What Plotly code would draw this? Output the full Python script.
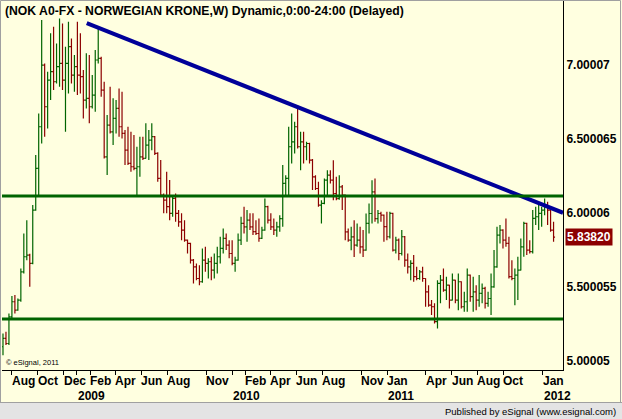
import pandas as pd
import plotly.graph_objects as go

# ---------------- data (weekly USD/NOK) ----------------
first_week = "2008-07-11"

open_prices = [
    5.097, 5.153, 5.119, 5.299, 5.401, 5.344, 5.412, 5.603, 5.705, 5.716,
    5.660, 6.020, 6.302, 6.583, 7.000, 6.718, 6.898, 6.955, 6.887, 6.989,
    7.011, 6.898, 7.011, 7.124, 6.932, 6.989, 6.932, 6.921, 6.763, 6.775,
    6.718, 6.797, 7.034, 7.045, 6.831, 6.380, 6.594, 6.549, 6.639, 6.707,
    6.583, 6.538, 6.425, 6.335, 6.313, 6.302, 6.313, 6.380, 6.369, 6.459,
    6.493, 6.516, 6.403, 6.234, 6.121, 6.088, 6.043, 5.998, 6.099, 5.998,
    5.941, 5.885, 5.817, 5.795, 5.682, 5.637, 5.558, 5.536, 5.682, 5.660,
    5.671, 5.615, 5.660, 5.705, 5.761, 5.829, 5.784, 5.727, 5.660, 5.682,
    5.817, 5.930, 5.907, 5.952, 5.907, 5.874, 5.862, 5.829, 5.885, 6.043,
    5.952, 5.907, 5.885, 5.907, 5.963, 6.200, 6.234, 6.448, 6.481, 6.583,
    6.448, 6.481, 6.448, 6.470, 6.357, 6.245, 6.166, 6.053, 6.065, 6.222,
    6.256, 6.222, 6.132, 6.098, 6.177, 6.121, 5.873, 5.817, 5.839, 5.783,
    5.817, 5.772, 5.749, 5.930, 5.997, 6.143, 5.963, 5.997, 5.986, 5.908,
    5.840, 5.998, 5.750, 5.817, 5.727, 5.840, 5.682, 5.637, 5.660, 5.570,
    5.558, 5.603, 5.558, 5.468, 5.378, 5.367, 5.266, 5.525, 5.547, 5.480,
    5.513, 5.412, 5.547, 5.412, 5.536, 5.367, 5.401, 5.581, 5.435, 5.468,
    5.412, 5.457, 5.491, 5.390, 5.423, 5.502, 5.637, 5.851, 5.885, 5.817,
    5.795, 5.570, 5.558, 5.581, 5.615, 5.772, 5.930, 5.750, 5.739, 5.964,
    5.975, 5.998, 6.020, 6.043, 6.020, 5.885,
]
high_prices = [
    5.187, 5.198, 5.322, 5.439, 5.446, 5.423, 5.626, 5.862, 5.952, 5.725,
    6.054, 6.392, 6.673, 7.304, 7.011, 6.955, 7.214, 7.259, 7.146, 7.315,
    7.281, 7.124, 7.293, 7.180, 7.067, 7.293, 7.214, 6.966, 7.079, 7.067,
    6.932, 7.101, 7.259, 7.056, 6.887, 6.662, 6.853, 6.775, 6.763, 6.842,
    6.820, 6.561, 6.583, 6.549, 6.527, 6.448, 6.516, 6.516, 6.606, 6.561,
    6.606, 6.520, 6.410, 6.358, 6.133, 6.279, 6.223, 6.110, 6.133, 6.020,
    5.998, 5.952, 5.822, 5.800, 5.690, 5.660, 5.648, 5.761, 5.772, 5.694,
    5.705, 5.727, 5.772, 5.840, 5.896, 5.862, 5.817, 5.817, 5.705, 5.862,
    5.975, 6.043, 6.020, 5.998, 5.998, 5.952, 5.964, 5.907, 6.099, 6.050,
    5.998, 5.964, 5.941, 5.986, 6.324, 6.256, 6.583, 6.673, 6.616, 6.729,
    6.549, 6.549, 6.481, 6.475, 6.365, 6.256, 6.211, 6.087, 6.234, 6.290,
    6.290, 6.357, 6.245, 6.256, 6.189, 6.125, 5.896, 5.907, 5.952, 5.930,
    5.907, 5.885, 5.997, 6.065, 6.222, 6.234, 6.020, 6.009, 5.990, 6.009,
    6.009, 6.002, 5.840, 5.829, 5.885, 5.845, 5.727, 5.682, 5.716, 5.637,
    5.615, 5.637, 5.560, 5.513, 5.412, 5.390, 5.547, 5.581, 5.626, 5.570,
    5.515, 5.592, 5.550, 5.592, 5.540, 5.468, 5.626, 5.585, 5.570, 5.513,
    5.581, 5.525, 5.502, 5.468, 5.592, 5.750, 5.908, 5.919, 5.890, 5.964,
    5.840, 5.682, 5.626, 5.705, 5.829, 5.941, 5.935, 5.817, 6.020, 6.043,
    6.054, 6.043, 6.099, 6.076, 6.025, 5.941,
]
low_prices = [
    5.040, 5.108, 5.108, 5.290, 5.322, 5.340, 5.401, 5.592, 5.682, 5.502,
    5.655, 6.015, 6.121, 6.470, 6.516, 6.572, 6.763, 6.831, 6.876, 6.853,
    6.831, 6.550, 6.808, 6.876, 6.820, 6.797, 6.808, 6.639, 6.707, 6.606,
    6.707, 6.684, 7.011, 6.786, 6.369, 6.257, 6.538, 6.459, 6.538, 6.516,
    6.504, 6.324, 6.324, 6.279, 6.290, 6.121, 6.245, 6.358, 6.369, 6.358,
    6.425, 6.392, 6.212, 6.110, 5.998, 5.998, 5.952, 5.975, 5.941, 5.907,
    5.817, 5.806, 5.727, 5.660, 5.525, 5.547, 5.513, 5.530, 5.603, 5.558,
    5.547, 5.558, 5.592, 5.660, 5.727, 5.750, 5.694, 5.648, 5.603, 5.678,
    5.784, 5.862, 5.806, 5.885, 5.851, 5.851, 5.806, 5.825, 5.880, 5.930,
    5.885, 5.851, 5.840, 5.873, 5.907, 6.110, 6.121, 6.335, 6.403, 6.436,
    6.290, 6.335, 6.357, 6.335, 6.155, 6.155, 6.042, 5.930, 6.060, 6.121,
    6.200, 6.087, 6.087, 6.090, 6.020, 5.817, 5.806, 5.749, 5.704, 5.772,
    5.727, 5.704, 5.745, 5.862, 5.930, 5.941, 5.930, 5.941, 5.806, 5.817,
    5.829, 5.741, 5.727, 5.682, 5.713, 5.637, 5.592, 5.547, 5.536, 5.547,
    5.550, 5.536, 5.367, 5.367, 5.311, 5.254, 5.221, 5.390, 5.468, 5.412,
    5.356, 5.410, 5.390, 5.344, 5.356, 5.333, 5.333, 5.401, 5.333, 5.344,
    5.367, 5.390, 5.356, 5.367, 5.311, 5.495, 5.630, 5.795, 5.761, 5.772,
    5.558, 5.547, 5.378, 5.412, 5.612, 5.705, 5.716, 5.727, 5.727, 5.919,
    5.885, 5.908, 5.986, 5.919, 5.874, 5.806,
]
close_prices = [
    5.153, 5.119, 5.299, 5.401, 5.344, 5.412, 5.603, 5.705, 5.716, 5.660,
    6.020, 6.302, 6.583, 7.000, 6.718, 6.898, 6.955, 6.887, 6.989, 7.011,
    6.898, 7.011, 7.124, 6.932, 6.989, 6.932, 6.921, 6.763, 6.775, 6.718,
    6.797, 7.034, 7.045, 6.831, 6.380, 6.594, 6.549, 6.639, 6.707, 6.583,
    6.538, 6.425, 6.335, 6.313, 6.302, 6.313, 6.380, 6.369, 6.459, 6.493,
    6.516, 6.403, 6.234, 6.121, 6.088, 6.043, 5.998, 6.099, 5.998, 5.941,
    5.885, 5.817, 5.795, 5.682, 5.637, 5.558, 5.536, 5.682, 5.660, 5.671,
    5.615, 5.660, 5.705, 5.761, 5.829, 5.784, 5.727, 5.660, 5.682, 5.817,
    5.930, 5.907, 5.952, 5.907, 5.874, 5.862, 5.829, 5.885, 6.043, 5.952,
    5.907, 5.885, 5.907, 5.963, 6.200, 6.234, 6.448, 6.481, 6.583, 6.448,
    6.481, 6.448, 6.470, 6.357, 6.245, 6.166, 6.053, 6.065, 6.222, 6.256,
    6.222, 6.132, 6.098, 6.177, 6.121, 5.873, 5.817, 5.839, 5.783, 5.817,
    5.772, 5.749, 5.930, 5.997, 6.143, 5.963, 5.997, 5.986, 5.908, 5.840,
    5.998, 5.750, 5.817, 5.727, 5.840, 5.682, 5.637, 5.660, 5.570, 5.558,
    5.603, 5.558, 5.468, 5.378, 5.367, 5.266, 5.525, 5.547, 5.480, 5.513,
    5.412, 5.547, 5.412, 5.536, 5.367, 5.401, 5.581, 5.435, 5.468, 5.412,
    5.457, 5.491, 5.390, 5.423, 5.502, 5.637, 5.851, 5.885, 5.817, 5.795,
    5.570, 5.558, 5.581, 5.615, 5.772, 5.930, 5.750, 5.739, 5.964, 5.975,
    5.998, 6.020, 6.043, 6.020, 5.885, 5.838,
]

# drawn lines: resistance / support levels and the falling trendline
level_prices = [6.116, 5.285]
trend_dates = ["2009-01-24 00:00", "2012-02-18 05:00"]
trend_prices = [7.283, 6.002]

last_price_text = "5.83820"
last_price = 5.8382

# axis ticks / labels
y_tick_values = [5.00005, 5.500055, 6.00006, 6.500065, 7.00007]
y_tick_text = ["5.00005", "5.500055", "6.00006", "6.500065", "7.00007"]

month_label_dates = ["2008-08-01", "2008-10-01", "2008-12-01", "2009-02-01", "2009-04-01",
                     "2009-06-01", "2009-08-01", "2009-11-01", "2010-02-01", "2010-04-01",
                     "2010-06-01", "2010-08-01", "2010-11-01", "2011-01-01", "2011-04-01",
                     "2011-06-01", "2011-08-01", "2011-10-01", "2012-01-01"]
month_label_text = ["Aug", "Oct", "Dec", "Feb", "Apr", "Jun", "Aug", "Nov", "Feb", "Apr",
                    "Jun", "Aug", "Nov", "Jan", "Apr", "Jun", "Aug", "Oct", "Jan"]
year_label_dates = ["2009-01-01", "2010-01-01", "2011-01-01", "2012-01-01"]
year_label_text = ["2009", "2010", "2011", "2012"]

title_text = "(NOK A0-FX - NORWEGIAN KRONE,W) Dynamic,0:00-24:00 (Delayed)"

# ---------------- figure ----------------
dates = pd.date_range(first_week, periods=len(close_prices), freq="7D")

FONT = "Liberation Sans, Arial, sans-serif"
BG = "#FFFFE0"
UP = "#006400"
DOWN = "#8C0000"

fig = go.Figure()
fig.add_trace(go.Ohlc(
    x=dates, open=open_prices, high=high_prices, low=low_prices, close=close_prices,
    increasing=dict(line=dict(color=UP, width=1.2)),
    decreasing=dict(line=dict(color=DOWN, width=1.2)),
    tickwidth=0.5, hoverinfo="skip", showlegend=False,
))
fig.add_trace(go.Scatter(
    x=trend_dates, y=trend_prices, mode="lines",
    line=dict(color="#000099", width=4), hoverinfo="skip", showlegend=False,
))

shapes = []
for lv in level_prices:
    shapes.append(dict(type="line", xref="paper", yref="y", x0=0, x1=1, y0=lv, y1=lv,
                       line=dict(color=UP, width=3), layer="above"))

# paper geometry helpers (plot area spans px x 2..563, y 1..370)
def px_x(px):
    return (px - 2) / 561.0

def px_y(py):
    return (370 - py) / 369.0

# footer band and outer frame
shapes.append(dict(type="rect", xref="paper", yref="paper",
                   x0=px_x(-2), x1=px_x(624), y0=px_y(421), y1=px_y(402.5),
                   fillcolor="#E4E4E4", line=dict(color="#A0A0A0", width=1), layer="below"))
shapes.append(dict(type="rect", xref="paper", yref="paper",
                   x0=px_x(0.5), x1=px_x(620.5), y0=px_y(402.5), y1=px_y(0.5),
                   fillcolor="rgba(0,0,0,0)", line=dict(color="#A0A0A0", width=1), layer="below"))

annotations = []
for d, t in zip(month_label_dates, month_label_text):
    annotations.append(dict(x=d, y=px_y(381), xref="x", yref="paper", text=t,
                            showarrow=False, xanchor="left", yanchor="middle", xshift=-2,
                            font=dict(family=FONT, size=12, color="black", weight="bold")))
for d, t in zip(year_label_dates, year_label_text):
    annotations.append(dict(x=d, y=px_y(396), xref="x", yref="paper", text=t,
                            showarrow=False, xanchor="left", yanchor="middle", xshift=-1,
                            font=dict(family=FONT, size=12, color="black", weight="bold")))
annotations.append(dict(x=px_x(3), y=px_y(11), xref="paper", yref="paper", text=title_text,
                        showarrow=False, xanchor="left", yanchor="middle",
                        font=dict(family=FONT, size=12.2, color="black", weight="bold")))
annotations.append(dict(x=px_x(4), y=px_y(362), xref="paper", yref="paper",
                        text="\u00a9 eSignal, 2011", showarrow=False,
                        xanchor="left", yanchor="middle",
                        font=dict(family=FONT, size=7.5, color="black")))
annotations.append(dict(x=px_x(618), y=px_y(411), xref="paper", yref="paper",
                        text="Published by eSignal (www.esignal.com)", showarrow=False,
                        xanchor="right", yanchor="middle",
                        font=dict(family=FONT, size=9.5, color="black")))
annotations.append(dict(x=px_x(565), y=last_price, xref="paper", yref="y",
                        text=last_price_text, showarrow=False,
                        xanchor="left", yanchor="middle", bgcolor="#8B0000", borderpad=1,
                        font=dict(family=FONT, size=12, color="white", weight="bold")))

fig.update_layout(
    width=622, height=419,
    margin=dict(l=2, r=59, t=1, b=49, pad=0),
    paper_bgcolor=BG, plot_bgcolor=BG,
    showlegend=False,
    shapes=shapes, annotations=annotations,
    xaxis=dict(
        type="date", range=["2008-07-08 16:00", "2012-02-18 05:00"],
        rangeslider=dict(visible=False),
        showgrid=False, zeroline=False,
        showline=True, linecolor="black", linewidth=1,
        ticks="outside", ticklen=4, tickcolor="black", tickwidth=1,
        tickvals=month_label_dates + year_label_dates,
        showticklabels=False, fixedrange=True,
    ),
    yaxis=dict(
        side="right", range=[4.9399, 7.4325],
        showgrid=False, zeroline=False,
        showline=True, linecolor="black", linewidth=1,
        ticks="", tickvals=y_tick_values, ticktext=y_tick_text,
        tickfont=dict(family=FONT, size=12, color="black", weight="bold"),
        fixedrange=True,
    ),
)

fig.write_html("out.html", config={"displayModeBar": False})
